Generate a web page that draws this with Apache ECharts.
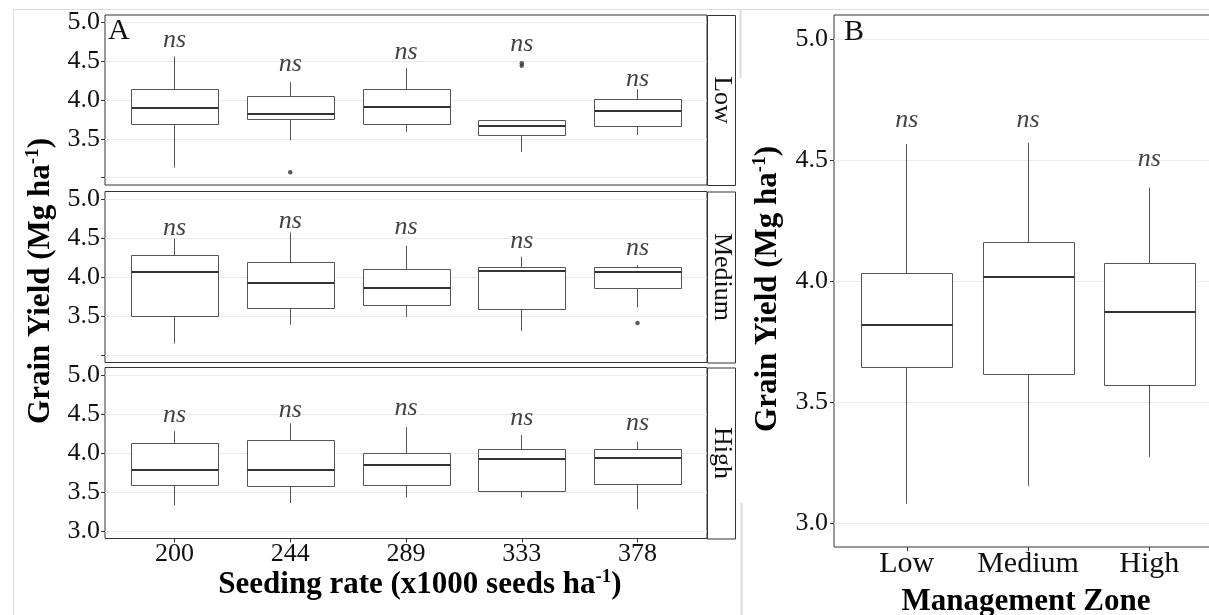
<!DOCTYPE html>
<html><head><meta charset="utf-8">
<script src="https://cdn.jsdelivr.net/npm/echarts@6/dist/echarts.min.js"></script>
<style>html,body{margin:0;padding:0;background:#fff}#c{width:1209px;height:615px}</style>
</head><body><div id="c"></div>
<script>
const seedRates = ['200', '244', '289', '333', '378'];
const zones = ['Low', 'Medium', 'High'];
const yTicks = [3.0, 3.5, 4.0, 4.5, 5.0];
// box stats per seeding rate: [min, Q1, median, Q3, max]
const boxLow = [[3.13, 3.69, 3.90, 4.13, 4.56], [3.48, 3.75, 3.82, 4.04, 4.23], [3.59, 3.69, 3.91, 4.13, 4.41], [3.33, 3.54, 3.67, 3.73, 3.73], [3.55, 3.66, 3.86, 4.01, 4.14]];
const boxMedium = [[3.15, 3.50, 4.07, 4.27, 4.49], [3.39, 3.60, 3.92, 4.19, 4.57], [3.49, 3.64, 3.86, 4.09, 4.40], [3.31, 3.59, 4.08, 4.12, 4.26], [3.61, 3.85, 4.06, 4.12, 4.15]];
const boxHigh = [[3.33, 3.59, 3.78, 4.12, 4.28], [3.36, 3.57, 3.78, 4.16, 4.38], [3.43, 3.58, 3.84, 4.00, 4.33], [3.43, 3.51, 3.92, 4.04, 4.23], [3.28, 3.60, 3.93, 4.05, 4.14]];
// outliers: [seeding rate index, value]
const outLow = [[1, 3.07], [3, 4.475], [3, 4.44]];
const outMedium = [[4, 3.41]];
const outHigh = [];
// "ns" annotation heights
const nsLow = [4.767, 4.466, 4.617, 4.72, 4.273];
const nsMedium = [4.629, 4.714, 4.633, 4.462, 4.372];
const nsHigh = [4.489, 4.55, 4.578, 4.447, 4.377];
// panel B: management zones
const boxZone = [[3.079, 3.642, 3.818, 4.032, 4.567], [3.153, 3.612, 4.017, 4.161, 4.572], [3.273, 3.569, 3.873, 4.073, 4.386]];
const nsZone = [4.665, 4.665, 4.503];

const SERIF = '"Liberation Serif", "Times New Roman", "DejaVu Serif", serif';
const INK = '#111';

const chart = echarts.init(document.getElementById('c'), null, {renderer: 'canvas'});

function px(v) { return Math.round(v - 0.5) + 0.5; }

function renderBox(params, api) {
  const x = api.value(0);
  const pMin = api.coord([x, api.value(1)]);
  const pQ1 = api.coord([x, api.value(2)]);
  const pMed = api.coord([x, api.value(3)]);
  const pQ3 = api.coord([x, api.value(4)]);
  const pMax = api.coord([x, api.value(5)]);
  const w = api.size([0.75, 0])[0];
  const cx = px(pMed[0]);
  const l = Math.round(cx - w / 2) + 0.5, r = Math.round(cx + w / 2) + 0.5;
  const st = {stroke: '#555', lineWidth: 1, fill: null};
  return {type: 'group', children: [
    {type: 'line', shape: {x1: cx, y1: pMax[1], x2: cx, y2: pQ3[1]}, style: st},
    {type: 'line', shape: {x1: cx, y1: pQ1[1], x2: cx, y2: pMin[1]}, style: st},
    {type: 'rect', shape: {x: l, y: px(pQ3[1]), width: r - l, height: px(pQ1[1]) - px(pQ3[1])}, style: {fill: '#fff', stroke: '#555', lineWidth: 1}},
    {type: 'line', shape: {x1: l, y1: Math.round(pMed[1]), x2: r, y2: Math.round(pMed[1])}, style: {stroke: '#333', lineWidth: 2}}
  ]};
}

const gridsA = [{top: 15, height: 170}, {top: 191.5, height: 171}, {top: 367.5, height: 171}];
const grid = gridsA.map(g => ({left: 105, top: g.top, width: 602, height: g.height, show: true, borderColor: '#333', borderWidth: 1, backgroundColor: '#fff', containLabel: false, outerBoundsMode: 'none'}));
grid.push({left: 834, top: 15, width: 388, height: 532, show: true, borderColor: '#333', borderWidth: 1, backgroundColor: '#fff', containLabel: false, outerBoundsMode: 'none'});

const xAxis = [0, 1, 2].map(i => ({
  type: 'value', gridIndex: i, min: -0.6, max: 4.6,
  axisLine: {show: false, onZero: false},
  axisTick: {show: i === 2, customValues: [0, 1, 2, 3, 4], length: 4, lineStyle: {color: '#333'}},
  axisLabel: {show: i === 2, customValues: [0, 1, 2, 3, 4], formatter: v => seedRates[Math.round(v)], fontSize: 26, fontFamily: SERIF, color: INK, margin: 3},
  splitLine: {show: false}
}));
xAxis.push({
  type: 'value', gridIndex: 3, min: -0.6, max: 2.6,
  axisLine: {show: false, onZero: false},
  axisTick: {show: true, customValues: [0, 1, 2], length: 4, lineStyle: {color: '#333'}},
  axisLabel: {show: true, customValues: [0, 1, 2], formatter: v => zones[Math.round(v)], fontSize: 30, fontFamily: SERIF, color: INK, margin: 2},
  splitLine: {show: false}
});

const yAxis = [0, 1, 2].map(i => ({
  type: 'value', gridIndex: i, min: 2.905, max: 5.095,
  axisLine: {show: false, onZero: false},
  axisTick: {show: true, customValues: yTicks, length: 4, lineStyle: {color: '#333'}},
  axisLabel: {show: true, customValues: i < 2 ? yTicks.slice(1) : yTicks, formatter: v => v.toFixed(1), fontSize: 26, fontFamily: SERIF, color: INK, margin: 5},
  splitLine: {show: true, lineStyle: {color: '#ebebeb', width: 1}}
}));
yAxis.push({
  type: 'value', gridIndex: 3, min: 2.9, max: 5.1,
  axisLine: {show: false, onZero: false},
  axisTick: {show: true, customValues: yTicks, length: 4, lineStyle: {color: '#333'}},
  axisLabel: {show: true, customValues: yTicks, formatter: v => v.toFixed(1), fontSize: 26, fontFamily: SERIF, color: INK, margin: 6},
  splitLine: {show: true, lineStyle: {color: '#ebebeb', width: 1}}
});

const boxSets = [boxLow, boxMedium, boxHigh, boxZone];
const outSets = [outLow, outMedium, outHigh, []];
const nsSets = [nsLow, nsMedium, nsHigh, nsZone];

const series = [];
boxSets.forEach((set, i) => {
  series.push({
    type: 'custom', xAxisIndex: i, yAxisIndex: i, renderItem: renderBox, silent: true, z: 3,
    encode: {x: 0, y: [1, 2, 3, 4, 5]},
    data: set.map((b, k) => [k].concat(b))
  });
  series.push({
    type: 'scatter', xAxisIndex: i, yAxisIndex: i, symbol: 'circle', symbolSize: 4.5, silent: true, z: 4,
    itemStyle: {color: '#333'}, data: outSets[i]
  });
  series.push({
    type: 'scatter', xAxisIndex: i, yAxisIndex: i, symbolSize: 1, silent: true, z: 5,
    itemStyle: {color: 'rgba(0,0,0,0)'},
    label: {show: true, position: 'inside', formatter: 'ns', fontSize: 26, fontStyle: 'italic', fontFamily: SERIF, color: INK},
    data: nsSets[i].map((v, k) => [k, v])
  });
});

function supTitle(x, y, rot) {
  return {
    type: 'text', x: x, y: y, rotation: rot, silent: true, z: 10,
    style: {
      text: '{b|Grain Yield (Mg ha}{s|-1}{b|)}',
      rich: {
        b: {fontSize: 31, fontWeight: 'bold', fontFamily: SERIF, lineHeight: 34, fill: '#000'},
        s: {fontSize: 19, fontWeight: 'bold', fontFamily: SERIF, lineHeight: 19, verticalAlign: 'top', fill: '#000'}
      },
      align: 'center', verticalAlign: 'middle'
    }
  };
}

const faint = {stroke: '#dcdcdc', lineWidth: 1};
const graphic = [
  {type: 'line', silent: true, shape: {x1: 13, y1: 9.5, x2: 1209, y2: 9.5}, style: faint},
  {type: 'line', silent: true, shape: {x1: 13.5, y1: 9.5, x2: 13.5, y2: 615}, style: faint},
  {type: 'line', silent: true, shape: {x1: 740.5, y1: 9.5, x2: 740.5, y2: 78}, style: {stroke: '#dcdcdc', lineWidth: 2}},
  {type: 'line', silent: true, shape: {x1: 741.5, y1: 503, x2: 741.5, y2: 615}, style: {stroke: '#dcdcdc', lineWidth: 2}}
];
gridsA.forEach((g, i) => {
  graphic.push({type: 'rect', silent: true, z: 5, shape: {x: 707.5, y: g.top + 0.5, width: 28, height: g.height}, style: {fill: '#fff', stroke: '#333', lineWidth: 1}});
  graphic.push({type: 'text', silent: true, z: 6, x: 722, y: g.top + g.height / 2, rotation: -Math.PI / 2,
    style: {text: zones[i], fontSize: 26, fontFamily: SERIF, fill: INK, align: 'center', verticalAlign: 'middle'}});
});
graphic.push({type: 'text', silent: true, z: 10, x: 108, y: 31.5, style: {text: 'A', fontSize: 30, fontFamily: SERIF, fill: INK, align: 'left', verticalAlign: 'middle'}});
graphic.push({type: 'text', silent: true, z: 10, x: 844, y: 32, style: {text: 'B', fontSize: 30, fontFamily: SERIF, fill: INK, align: 'left', verticalAlign: 'middle'}});
graphic.push(supTitle(41, 281, Math.PI / 2));
graphic.push(supTitle(768, 289, Math.PI / 2));
graphic.push({
  type: 'text', x: 420, y: 585, silent: true, z: 10,
  style: {
    text: '{b|Seeding rate (x1000 seeds ha}{s|-1}{b|)}',
    rich: {
      b: {fontSize: 31, fontWeight: 'bold', fontFamily: SERIF, lineHeight: 34, fill: '#000'},
      s: {fontSize: 19, fontWeight: 'bold', fontFamily: SERIF, lineHeight: 19, verticalAlign: 'top', fill: '#000'}
    },
    align: 'center', verticalAlign: 'middle'
  }
});
graphic.push({type: 'text', x: 1026, y: 602, silent: true, z: 10,
  style: {text: 'Management Zone', fontSize: 31, fontWeight: 'bold', fontFamily: SERIF, fill: '#000', align: 'center', verticalAlign: 'middle'}});

chart.setOption({
  animation: false,
  backgroundColor: '#fff',
  grid: grid,
  xAxis: xAxis,
  yAxis: yAxis,
  series: series,
  graphic: graphic
});
</script>
</body></html>
